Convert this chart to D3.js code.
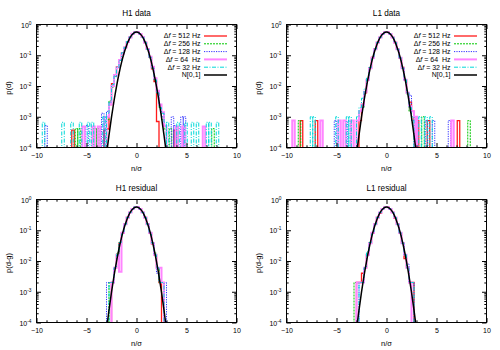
<!DOCTYPE html>
<html><head><meta charset="utf-8">
<script src="https://cdn.jsdelivr.net/npm/d3@7"></script>
<style>
body{margin:0;background:#fff}
svg{display:block}
text{font-family:"Liberation Sans",Arial,Helvetica,sans-serif;fill:#000}
</style>
</head><body>
<svg id="chart" width="500" height="350"></svg>
<script>
// ---------------- DATA ----------------
const panelTitles = ["H1 data", "L1 data", "H1 residual", "L1 residual"];
const panelYLabels = ["p(d)", "p(d)", "p(d-g)", "p(d-g)"];
const seriesDf = ["512", "256", "128", "64 ", "32"];
const curveLabel = "N[0,1]";
const xTicks = [-10, -5, 0, 5, 10];
const xMinorTicks = [-9,-8,-7,-6,-4,-3,-2,-1,1,2,3,4,6,7,8,9];
const yTicks = [1e-4, 1e-3, 1e-2, 1e-1, 1];
const yTickExp = ["-4", "-3", "-2", "-1", "0"];
const binStart = -3;
const binWidth = 0.25;

// histogram cores: 24 bins from -3 to 3 (red 512, green 256, blue 128, magenta 64, cyan 32)
const h1DataCore = [
  [4e-4,2.5e-3,0.012,0.022,0.042,0.07,0.12,0.18,0.27,0.39,0.50,0.57,0.56,0.49,0.38,0.26,0.155,0.085,0.036,0.014,7e-4,0,0,0],
  [8e-4,3.3e-3,0.009,0.021,0.042,0.068,0.115,0.175,0.27,0.39,0.50,0.56,0.56,0.50,0.38,0.26,0.16,0.083,0.04,0.016,0.006,2e-3,8e-4,4e-4],
  [1.5e-3,3e-3,0.01,0.02,0.04,0.07,0.12,0.175,0.28,0.39,0.49,0.56,0.57,0.49,0.38,0.27,0.155,0.085,0.04,0.017,0.006,2.5e-3,1e-3,5e-4],
  [1e-3,2.5e-3,0.01,0.023,0.04,0.07,0.115,0.18,0.27,0.38,0.50,0.56,0.56,0.49,0.39,0.26,0.16,0.09,0.042,0.018,0.007,2.5e-3,1.4e-3,5e-4],
  [1.3e-3,3e-3,0.011,0.021,0.04,0.068,0.12,0.18,0.28,0.39,0.50,0.57,0.56,0.49,0.38,0.26,0.155,0.085,0.038,0.016,0.006,2e-3,1.3e-3,6.6e-4]
];
const h1DataTail = [
  [[-6.35,3.7e-4],[-3.125,3.7e-4],[3.875,3.7e-4]],
  [[-6.0,4.1e-4],[-5.75,4.1e-4],[-4.125,4.1e-4],[-3.875,4.1e-4],[3.4,4.1e-4],[7.65,4.1e-4]],
  [[-9.05,5.2e-4],[-4.95,5.2e-4],[-3.375,1.3e-3],[-3.125,1e-3],[3.6,1e-3],[3.85,5.2e-4],[4.55,1e-3],[4.8,1e-3]],
  [[-5.3,4.8e-4],[-4.3,4.8e-4],[-3.75,4.8e-4],[4.05,4.8e-4],[4.7,4.8e-4],[6.75,4.8e-4]],
  [[-9.3,6.6e-4],[-7.35,6.6e-4],[-6.45,6.6e-4],[-5.6,6.6e-4],[-4.8,6.6e-4],[-4.4,6.6e-4],[-3.25,1e-3],[3.1,6.6e-4],[4.15,6.6e-4],[4.95,6.6e-4],[5.6,6.6e-4],[6.1,6.6e-4],[7.1,6.6e-4],[7.35,6.6e-4],[8.1,6.6e-4]]
];

const l1DataCore = [
  [0,7.5e-4,0.0025,0.006,0.016,0.038,0.085,0.16,0.26,0.38,0.49,0.56,0.56,0.49,0.38,0.26,0.155,0.083,0.04,0.016,0.006,3e-3,1.5e-3,7.5e-4],
  [7.5e-4,1.5e-3,0.002,0.0065,0.017,0.04,0.085,0.16,0.26,0.38,0.50,0.56,0.56,0.50,0.38,0.26,0.157,0.08,0.038,0.016,0.0055,1.5e-3,7.5e-4,0],
  [7.5e-4,1.5e-3,0.002,0.006,0.016,0.039,0.083,0.157,0.26,0.38,0.49,0.56,0.56,0.49,0.38,0.26,0.157,0.083,0.039,0.017,0.006,5e-3,7.5e-4,0],
  [7.5e-4,1.5e-3,0.0025,0.0065,0.016,0.038,0.083,0.157,0.26,0.38,0.49,0.56,0.56,0.49,0.38,0.26,0.157,0.083,0.038,0.016,0.006,2.2e-3,1.5e-3,1e-3],
  [1e-3,2e-3,4e-3,0.008,0.018,0.04,0.085,0.16,0.26,0.38,0.49,0.56,0.56,0.49,0.38,0.26,0.157,0.083,0.038,0.016,0.006,2e-3,1e-3,0]
];
const l1DataTail = [
  [[-8.5,7.5e-4],[-7.0,7.5e-4],[3.1,7.5e-4],[4.2,7.5e-4],[7.2,7.5e-4]],
  [[-8.7,7.5e-4],[3.65,1e-3],[8.25,7.5e-4]],
  [[-5.1,7.5e-4],[-3.75,7.5e-4],[4.0,7.5e-4],[4.7,7.5e-4],[6.3,7.5e-4]],
  [[-9.3,7.5e-4],[-6.5,7.5e-4],[-4.7,7.5e-4],[-4.2,7.5e-4],[-3.4,7.5e-4],[2.95,1e-3],[6.6,7.5e-4]],
  [[-7.5,1e-3],[-7.25,1e-3],[-4.95,1e-3],[-3.9,1e-3],[-3.65,1e-3],[3.35,1e-3],[3.95,1e-3],[4.45,1e-3]]
];

const h1ResCore = [
  [0,0,2e-3,6e-3,0.016,0.038,0.083,0.157,0.26,0.38,0.49,0.56,0.56,0.49,0.38,0.26,0.157,0.083,0.036,0.016,6e-3,2e-3,0,0],
  [0,2e-3,2e-3,6e-3,0.018,0.04,0.085,0.157,0.26,0.38,0.49,0.56,0.56,0.49,0.38,0.26,0.157,0.085,0.04,0.018,6e-3,2e-3,2e-3,0],
  [2e-3,2e-3,2e-3,6e-3,0.016,0.038,0.083,0.157,0.26,0.38,0.49,0.56,0.56,0.49,0.38,0.26,0.157,0.083,0.038,0.016,4e-3,2e-3,2e-3,2e-3],
  [0,0,2e-3,6e-3,0.016,4.5e-3,0.083,0.157,0.26,0.38,0.49,0.56,0.57,0.49,0.38,0.26,0.157,0.083,0.038,0.016,6e-3,6e-3,2e-3,0],
  [0,2e-3,2e-3,6e-3,0.016,0.04,0.083,0.157,0.26,0.38,0.49,0.58,0.56,0.49,0.38,0.26,0.157,0.083,0.038,0.016,6e-3,2e-3,2e-3,0]
];
const h1ResTail = [[], [], [], [], []];

const l1ResCore = [
  [2e-3,2e-3,4e-3,6e-3,0.016,0.038,0.083,0.157,0.26,0.36,0.49,0.56,0.56,0.49,0.38,0.25,0.157,0.083,0.038,0.012,6e-3,2e-3,2e-3,0],
  [2e-3,2e-3,2e-3,6e-3,0.018,0.04,0.083,0.157,0.26,0.38,0.49,0.56,0.56,0.49,0.38,0.26,0.157,0.083,0.04,0.016,6e-3,2e-3,0,0],
  [0,2e-3,2e-3,6e-3,0.016,0.038,0.083,0.157,0.26,0.38,0.49,0.56,0.56,0.49,0.38,0.26,0.157,0.083,0.038,0.016,8e-3,2e-3,2e-3,0],
  [2e-3,2e-3,2e-3,6e-3,0.016,0.038,0.083,0.157,0.26,0.38,0.49,0.56,0.56,0.49,0.38,0.26,0.157,0.083,0.038,0.016,6e-3,2e-3,0,0],
  [0,2e-3,2e-3,6e-3,0.02,0.04,0.083,0.157,0.26,0.38,0.49,0.56,0.56,0.49,0.38,0.26,0.157,0.083,0.038,0.016,6e-3,2e-3,2e-3,0]
];
const l1ResTail = [[], [[-3.125,2e-3]], [], [], []];

// reference N[0,1] curve
const gaussX = [-3.25,-3,-2.75,-2.5,-2.25,-2,-1.75,-1.5,-1.25,-1,-0.75,-0.5,-0.25,0,0.25,0.5,0.75,1,1.25,1.5,1.75,2,2.25,2.5,2.75,3,3.25];
const gaussY = [1.19e-5,5.85e-5,2.54e-4,9.68e-4,3.25e-3,9.62e-3,2.50e-2,5.74e-2,0.1157,0.2054,0.321,0.4416,0.535,0.570,0.535,0.4416,0.321,0.2054,0.1157,5.74e-2,2.50e-2,9.62e-3,3.25e-3,9.68e-4,2.54e-4,5.85e-5,1.19e-5];

// ---------------- DRAW ----------------
const panelCores = [h1DataCore, l1DataCore, h1ResCore, l1ResCore];
const panelTails = [h1DataTail, l1DataTail, h1ResTail, l1ResTail];
const panelOffsets = [[0,0],[250,0],[0,175],[250,175]];
const showLegend = [true, true, false, false];

const seriesStyle = [
  {color:"#ff1a1a", width:1.3, dash:null},
  {color:"#00c800", width:1.0, dash:"2,1"},
  {color:"#3030ff", width:1.0, dash:"1.2,1.2"},
  {color:"#ff85ff", width:2.0, dash:null},
  {color:"#00d8d8", width:1.0, dash:"4,1.5,1,1.5"}
];
const curveStyle = {color:"#000000", width:1.5};

const svg = d3.select("#chart");
const L = 36.5, R = 236.5, T = 24.5, B = 147.5;

const yMinor = [];
for (let e = -4; e < 0; e++) for (let k = 2; k <= 9; k++) yMinor.push(k * Math.pow(10, e));

panelOffsets.forEach((off, pi) => {
  const g = svg.append("g").attr("transform", `translate(${off[0]},${off[1]})`);
  const x = d3.scaleLinear().domain([-10, 10]).range([L, R]);
  const y = d3.scaleLog().domain([1e-4, 1]).range([B, T]);
  const below = B + 4;

  const clipId = "clip" + pi;
  g.append("clipPath").attr("id", clipId).append("rect")
    .attr("x", L).attr("y", T).attr("width", R - L).attr("height", B - T);

  const plot = g.append("g").attr("clip-path", `url(#${clipId})`);

  const cores = panelCores[pi], tails = panelTails[pi];
  cores.forEach((core, si) => {
    const p = d3.path();
    p.moveTo(x(binStart), below);
    core.forEach((v, j) => {
      const yy = v > 0 ? y(v) : below;
      const a = binStart + j * binWidth, b = a + binWidth;
      p.lineTo(x(a), yy);
      p.lineTo(x(b), yy);
    });
    p.lineTo(x(binStart + core.length * binWidth), below);
    tails[si].forEach(([c, v]) => {
      const a = c - binWidth / 2, b = c + binWidth / 2;
      p.moveTo(x(a), below);
      p.lineTo(x(a), y(v));
      p.lineTo(x(b), y(v));
      p.lineTo(x(b), below);
    });
    const st = seriesStyle[si];
    plot.append("path").attr("d", p.toString())
      .attr("fill", "none").attr("stroke", st.color)
      .attr("stroke-width", st.width)
      .attr("stroke-dasharray", st.dash)
      .attr("stroke-linejoin", "miter");
  });

  const line = d3.line().x((d, i) => x(gaussX[i])).y(d => y(d)).curve(d3.curveMonotoneX);
  plot.append("path").attr("d", line(gaussY)).attr("fill", "none")
    .attr("stroke", curveStyle.color).attr("stroke-width", curveStyle.width);

  // axes
  const styleAxis = sel => { sel.select(".domain").remove(); sel.selectAll("line").attr("stroke", "#000").attr("stroke-width", 1); };
  g.append("g").attr("transform", `translate(0,${B})`)
    .call(d3.axisBottom(x).tickValues(xTicks).tickSize(-4.5).tickPadding(5.6).tickFormat(d3.format("d")))
    .call(styleAxis)
    .call(s => s.selectAll("text").attr("font-size", 7).attr("font-family", "Liberation Sans, Arial, sans-serif").attr("fill", "#000"));
  g.append("g").attr("transform", `translate(0,${B})`)
    .call(d3.axisBottom(x).tickValues(xMinorTicks).tickSize(-2.2).tickFormat("")).call(styleAxis);
  g.append("g").attr("transform", `translate(0,${T})`)
    .call(d3.axisTop(x).tickValues(xTicks).tickSize(-4.5).tickFormat("")).call(styleAxis);
  g.append("g").attr("transform", `translate(0,${T})`)
    .call(d3.axisTop(x).tickValues(xMinorTicks).tickSize(-2.2).tickFormat("")).call(styleAxis);

  const yAx = g.append("g").attr("transform", `translate(${L},0)`)
    .call(d3.axisLeft(y).tickValues(yTicks).tickSize(-4.5).tickPadding(5).tickFormat(""))
    .call(styleAxis);
  yAx.selectAll(".tick").each(function(d, i) {
    const t = d3.select(this).select("text");
    t.text(null).attr("text-anchor", "end").attr("font-size", 7).attr("dy", null).attr("y", 2.5).attr("x", -5)
      .attr("font-family", "Liberation Sans, Arial, sans-serif").attr("fill", "#000");
    t.append("tspan").text("10");
    t.append("tspan").attr("font-size", 4.8).attr("dy", -3).text(yTickExp[i]);
  });
  g.append("g").attr("transform", `translate(${L},0)`)
    .call(d3.axisLeft(y).tickValues(yMinor).tickSize(-2.2).tickFormat("")).call(styleAxis);
  g.append("g").attr("transform", `translate(${R},0)`)
    .call(d3.axisRight(y).tickValues(yTicks).tickSize(-4.5).tickFormat("")).call(styleAxis);
  g.append("g").attr("transform", `translate(${R},0)`)
    .call(d3.axisRight(y).tickValues(yMinor).tickSize(-2.2).tickFormat("")).call(styleAxis);

  g.append("rect").attr("x", L).attr("y", T).attr("width", R - L).attr("height", B - T)
    .attr("fill", "none").attr("stroke", "#000").attr("stroke-width", 1);

  // titles and labels
  g.append("text").attr("x", (L + R) / 2).attr("y", 16).attr("text-anchor", "middle")
    .attr("font-size", 8.2).text(panelTitles[pi]);
  g.append("text").attr("x", (L + R) / 2).attr("y", 170.5).attr("text-anchor", "middle")
    .attr("font-size", 7.5).text("n/σ");
  g.append("text").attr("transform", `translate(10.5,${(T + B) / 2 + 2}) rotate(-90)`)
    .attr("text-anchor", "middle").attr("font-size", 7.5).text(panelYLabels[pi]);

  // legend
  if (showLegend[pi]) {
    const lg = g.append("g");
    const rows = seriesStyle.length + 1;
    for (let r = 0; r < rows; r++) {
      const ry = 36 + r * 7.8;
      const t = lg.append("text").attr("x", 200.5).attr("y", ry + 2.4).attr("text-anchor", "end")
        .attr("font-size", 7).style("white-space", "pre");
      if (r < seriesStyle.length) {
        t.append("tspan").text("Δ");
        t.append("tspan").attr("font-style", "italic").text("f");
        t.append("tspan").text(" = " + seriesDf[r] + " Hz");
        const st = seriesStyle[r];
        lg.append("line").attr("x1", 204).attr("x2", 227).attr("y1", ry).attr("y2", ry)
          .attr("stroke", st.color).attr("stroke-width", st.width).attr("stroke-dasharray", st.dash);
      } else {
        t.text(curveLabel);
        lg.append("line").attr("x1", 204).attr("x2", 227).attr("y1", ry).attr("y2", ry)
          .attr("stroke", curveStyle.color).attr("stroke-width", curveStyle.width);
      }
    }
  }
});
</script>
</body></html>
